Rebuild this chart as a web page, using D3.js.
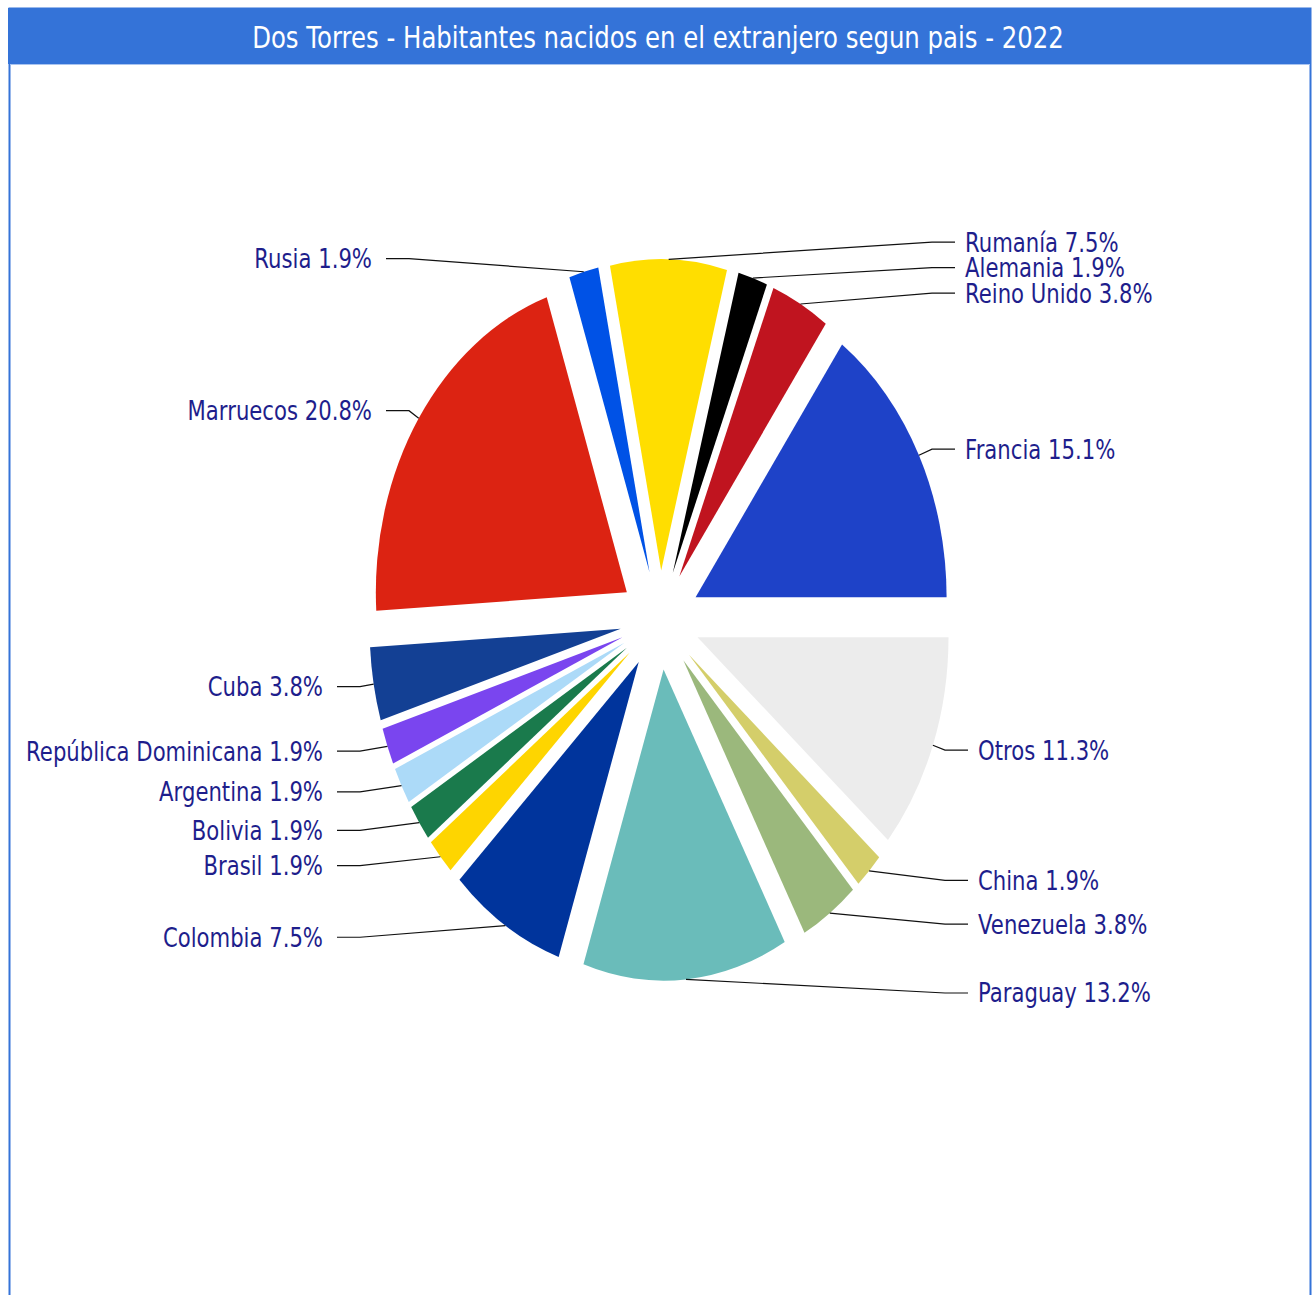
<!DOCTYPE html>
<html>
<head>
<meta charset="utf-8">
<script src="https://cdn.jsdelivr.net/npm/d3@7/dist/d3.min.js"></script>
<style>
  body { margin: 0; background: #fff; }
</style>
</head>
<body>
<div id="chart"></div>
<script>
// Data (counter-clockwise from 3 o'clock)
const countries = ['Francia', 'Reino Unido', 'Alemania', 'Rumanía', 'Rusia', 'Marruecos',
  'Cuba', 'República Dominicana', 'Argentina', 'Bolivia', 'Brasil', 'Colombia',
  'Paraguay', 'Venezuela', 'China', 'Otros'];
const shares = [15.1, 3.8, 1.9, 7.5, 1.9, 20.8, 3.8, 1.9, 1.9, 1.9, 1.9, 7.5, 13.2, 3.8, 1.9, 11.3];
const colors = ['#1e42c8', '#c0141f', '#000000', '#ffde00', '#0052e6', '#dc2312',
  '#134094', '#7a45ef', '#acdaf8', '#1a7a4c', '#fed500', '#00349c',
  '#6abcba', '#9bb87c', '#d4ce6a', '#ececec'];
const title = 'Dos Torres - Habitantes nacidos en el extranjero segun pais - 2022';

const width = 1316, height = 1295;
const cx = 660, cy = 620;
const radius = 251;      // horizontal radius of the pie
const explode = 40;      // distance each slice is pushed out
const stretch = 1.24;    // the whole picture is taller than wide
const labelRadius = radius + explode + 11;
const minGap = 25.5;     // min vertical distance between labels on one side
const elbow = 23;        // flat part of the guide line
const textGap = 10;
// label columns, distance from the centre
const columns = { rightTop: 305, rightBottom: 318, leftTop: 288, leftBottom: 337 };
const labelFont = 'DejaVu Sans';
const labelColor = '#1e1e8c';
const frameColor = '#3473d8';

const svg = d3.select('#chart')
  .append('svg')
  .attr('width', width)
  .attr('height', height);

// Frame and title bar
svg.append('rect')
  .attr('x', 9.5).attr('y', 8.5)
  .attr('width', 1301).attr('height', height + 20)
  .attr('fill', '#fff')
  .attr('stroke', frameColor)
  .attr('stroke-width', 2);

svg.append('rect')
  .attr('x', 8).attr('y', 8)
  .attr('width', 1303).attr('height', 56)
  .attr('fill', frameColor);

svg.append('line')
  .attr('x1', 10).attr('x2', 1310)
  .attr('y1', 64.5).attr('y2', 64.5)
  .attr('stroke', '#a9c4f0');

svg.append('text')
  .attr('transform', `translate(658,37) scale(1,${stretch})`)
  .attr('text-anchor', 'middle')
  .attr('dy', '0.36em')
  .attr('fill', '#fff')
  .style('font-family', labelFont)
  .style('font-size', '24.4px')
  .text(title);

// Pie: d3 angles run clockwise from 12 o'clock, so go backwards from 3 o'clock
const pie = d3.pie()
  .sort(null)
  .startAngle(Math.PI / 2)
  .endAngle(Math.PI / 2 - 2 * Math.PI);

const arcs = pie(shares);
const midAngle = d => (d.startAngle + d.endAngle) / 2;

const arc = d3.arc()
  .innerRadius(0)
  .outerRadius(radius);

const pieGroup = svg.append('g')
  .attr('transform', `translate(${cx},${cy}) scale(1,${stretch})`);

pieGroup.selectAll('path')
  .data(arcs)
  .enter()
  .append('path')
  .attr('d', arc)
  .attr('fill', (d, i) => colors[i])
  .attr('transform', d => {
    const a = midAngle(d);
    return `translate(${explode * Math.sin(a)},${-explode * Math.cos(a)})`;
  });

// Label placement
const labels = arcs.map((d, i) => {
  const a = midAngle(d);
  const edge = radius + explode;
  const right = Math.sin(a) > 0;
  const y = cy - stretch * labelRadius * Math.cos(a);
  return {
    text: `${countries[i]} ${d3.format('.1f')(shares[i])}%`,
    right: right,
    px: cx + edge * Math.sin(a),
    py: cy - stretch * edge * Math.cos(a),
    y: y
  };
});

// push overlapping labels apart on each side
[true, false].forEach(side => {
  const group = labels.filter(l => l.right === side).sort((a, b) => a.y - b.y);
  for (let k = 0; k < 20; k++) {
    for (let j = 1; j < group.length; j++) {
      const gap = group[j].y - group[j - 1].y;
      if (gap < minGap) {
        const shift = (minGap - gap) / 2;
        group[j - 1].y -= shift;
        group[j].y += shift;
      }
    }
  }
});

labels.forEach(l => {
  const top = l.y < cy;
  if (l.right) {
    l.x = cx + (top ? columns.rightTop : columns.rightBottom);
    l.lineEnd = l.x - textGap;
    l.elbowX = l.lineEnd - elbow;
  } else {
    l.x = cx - (top ? columns.leftTop : columns.leftBottom);
    l.lineEnd = l.x + textGap + 4;
    l.elbowX = l.lineEnd + elbow;
  }
});

svg.append('g')
  .selectAll('path')
  .data(labels)
  .enter()
  .append('path')
  .attr('d', l => d3.line()([[l.px, l.py], [l.elbowX, l.y], [l.lineEnd, l.y]]))
  .attr('fill', 'none')
  .attr('stroke', '#111')
  .attr('stroke-width', 1.2);

svg.append('g')
  .selectAll('text')
  .data(labels)
  .enter()
  .append('text')
  .attr('transform', l => `translate(${l.x},${l.y}) scale(1,${stretch})`)
  .attr('text-anchor', l => l.right ? 'start' : 'end')
  .attr('dy', '0.36em')
  .attr('fill', labelColor)
  .style('font-family', labelFont)
  .style('font-size', '21.2px')
  .text(l => l.text);
</script>
</body>
</html>
